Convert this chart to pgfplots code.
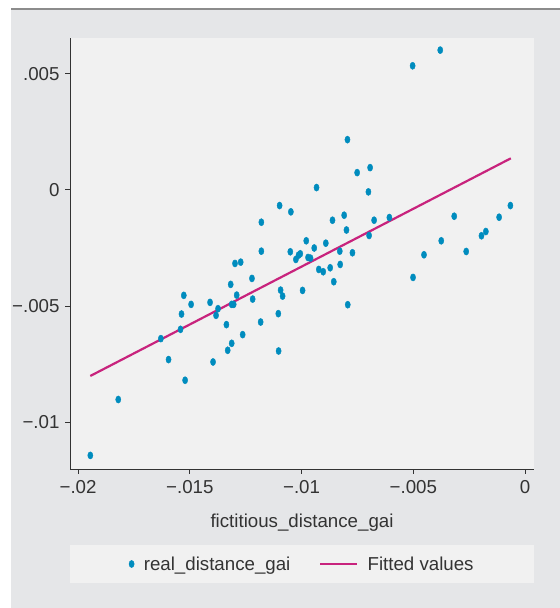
\documentclass[border=0pt]{standalone}
\usepackage{fontspec}
\setmainfont{Liberation Sans}
\usepackage{pgfplots}
\pgfplotsset{compat=1.18}
\definecolor{bgout}{RGB}{229,230,232}
\definecolor{bgin}{RGB}{241,241,241}
\definecolor{dotc}{RGB}{0,140,190}
\definecolor{fitc}{RGB}{200,35,125}
\definecolor{txt}{RGB}{51,51,51}
\definecolor{topline}{RGB}{140,140,140}
\pgfplotsset{
  scatlegend/.style={legend image code/.code={\path (-3bp,0bp) (3bp,0bp); \draw[##1] plot coordinates {(0bp,0bp)};}},
  linelegend/.style={legend image code/.code={\draw[##1] (0bp,0bp) -- (37bp,0bp);}},
}
\begin{document}
\begin{tikzpicture}[x=1bp,y=1bp]
\fill[white] (0,0) rectangle (560,608);
\fill[bgout] (11,0) rectangle (560,598);
\fill[topline] (11,597.5) rectangle (560,600);
\fill[bgin] (70,25) rectangle (534,63);
\begin{axis}[
  at={(70bp,139bp)}, anchor=south west, scale only axis,
  width=464bp, height=431bp,
  xmin=-0.02036, xmax=0.0004, ymin=-0.0120, ymax=0.00653,
  axis x line*=bottom, axis y line*=left,
  axis line style={txt, line width=0.8bp},
  axis background/.style={fill=bgin},
  xtick={-0.02,-0.015,-0.01,-0.005,0},
  xticklabels={−.02,−.015,−.01,−.005,0},
  ytick={-0.01,-0.005,0,0.005},
  yticklabels={−.01,−.005,0,.005},
  scaled ticks=false,
  tick style={txt, line width=0.8bp}, tick align=outside, major tick length=5bp,
  ticklabel style={font=\fontsize{18.7bp}{22bp}\selectfont, text=txt},
  xticklabel style={yshift=-3bp},
  yticklabel style={xshift=-2bp},
  xlabel={fictitious\_distance\_gai},
  xlabel style={at={(axis description cs:0.5,-0.1357)}, anchor=base, font=\fontsize{18.7bp}{22bp}\selectfont, text=txt},
  legend style={at={(0.5,-0.2204)}, anchor=center, draw=none, fill=none,
    font=\fontsize{18.7bp}{22bp}\selectfont, text=txt,
    /tikz/every even column/.append style={column sep=27bp},
    /tikz/every odd column/.append style={column sep=7bp}},
  legend columns=2,
  clip=false,
]
\addplot[only marks, mark=*, color=dotc, mark size=3.6bp, mark options={xscale=0.72, draw=dotc, fill=dotc}, scatlegend]
coordinates {
(-0.019451,-0.011416) (-0.018201,-0.009013) (-0.016295,-0.006395) (-0.015951,-0.007296)
(-0.015415,-0.005996) (-0.015371,-0.005339) (-0.015268,-0.004536) (-0.015210,-0.008185)
(-0.014942,-0.004923) (-0.014094,-0.004837) (-0.013960,-0.007399) (-0.013826,-0.005395)
(-0.013737,-0.005107) (-0.013362,-0.005794) (-0.013304,-0.006897) (-0.013170,-0.004064)
(-0.013125,-0.006597) (-0.013125,-0.004923) (-0.013036,-0.004923) (-0.012978,-0.003163)
(-0.012902,-0.004524) (-0.012723,-0.003107) (-0.012634,-0.006223) (-0.012219,-0.003807)
(-0.012188,-0.004695) (-0.011830,-0.005682) (-0.011799,-0.002635) (-0.011799,-0.001391)
(-0.011040,-0.005322) (-0.011027,-0.006927) (-0.010982,-0.000674) (-0.010938,-0.004309)
(-0.010848,-0.004567) (-0.010504,-0.002661) (-0.010478,-0.000944) (-0.010254,-0.002991)
(-0.010134,-0.002807) (-0.010058,-0.002747) (-0.009955,-0.004322) (-0.009790,-0.002189)
(-0.009710,-0.002906) (-0.009598,-0.002936) (-0.009433,-0.002498) (-0.009330,0.000099)
(-0.009228,-0.003421) (-0.009031,-0.003519) (-0.008915,-0.002292) (-0.008719,-0.003348)
(-0.008616,-0.001305) (-0.008558,-0.003948) (-0.008290,-0.002635) (-0.008272,-0.003206)
(-0.008094,-0.001090) (-0.007991,-0.001725) (-0.007946,0.002159) (-0.007933,-0.004936)
(-0.007723,-0.002704) (-0.007513,0.000742) (-0.007009,-0.000086) (-0.006978,-0.001961)
(-0.006933,0.000957) (-0.006754,-0.001305) (-0.006071,-0.001189) (-0.005031,0.005335)
(-0.005013,-0.003764) (-0.004522,-0.002790) (-0.003795,0.006009) (-0.003750,-0.002189)
(-0.003170,-0.001133) (-0.002634,-0.002648) (-0.001951,-0.001974) (-0.001754,-0.001790)
(-0.001161,-0.001176) (-0.000656,-0.000674)
};
\addlegendentry{real\_distance\_gai}
\addplot[fitc, line width=2.2bp, mark=none, linelegend]
coordinates {(-0.019451,-0.008000) (-0.000638,0.001356)};
\addlegendentry{Fitted values}
\end{axis}
\pgfresetboundingbox
\useasboundingbox (0,0) rectangle (560,608);
\end{tikzpicture}
\end{document}
